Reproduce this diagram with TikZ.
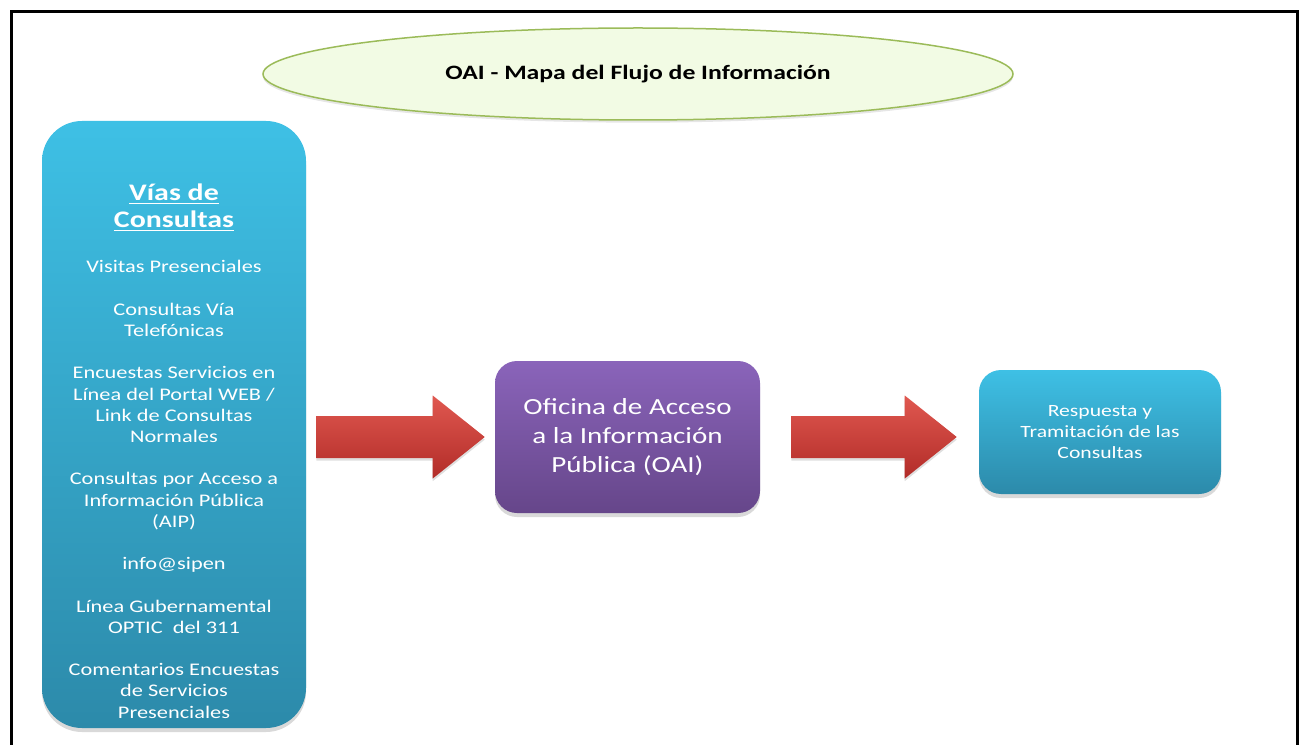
\documentclass[tikz,border=0pt]{standalone}
\usepackage{fontspec}
\setmainfont{Carlito}[FakeStretch=1.26]
\usetikzlibrary{shapes.geometric,shadows,calc}

\definecolor{celesteA}{RGB}{62,192,229}
\definecolor{celesteB}{RGB}{44,138,170}
\definecolor{moradoA}{RGB}{138,100,186}
\definecolor{moradoB}{RGB}{102,70,138}
\definecolor{rojoA}{RGB}{224,88,80}
\definecolor{rojoB}{RGB}{178,44,40}
\definecolor{verdeclaro}{RGB}{242,251,228}
\definecolor{verde}{RGB}{155,187,89}

\newcommand{\px}{0.75pt}

\begin{document}
\begin{tikzpicture}[x=0.75pt,y=-0.75pt,
	caja/.style={inner sep=0pt, align=center, text=white,
		drop shadow={opacity=0.3,shadow xshift=0pt,shadow yshift=-3pt}},
	celeste/.style={top color=celesteA, bottom color=celesteB},
	morado/.style={top color=moradoA, bottom color=moradoB},
	flecha/.style={top color=rojoA, bottom color=rojoB,
		drop shadow={opacity=0.25,shadow xshift=0pt,shadow yshift=-2pt}},
	texto/.style={inner sep=0pt, align=center, text=white}]
	
	\useasboundingbox (0,0) rectangle (1299,745);
	
	% marco
	\draw[line width=3*\px] (11.5,746) -- (11.5,11.3) -- (1297,11.3) -- (1297,746);
	
	% titulo
	\node[ellipse, draw=verde, fill=verdeclaro, line width=1.5*\px,
		minimum width=750*\px, minimum height=92*\px,
		drop shadow={opacity=0.2,shadow xshift=0pt,shadow yshift=-2pt},
		font=\bfseries\fontsize{15.3}{18}\selectfont] (titulo) at (638,74)
		{OAI - Mapa del Flujo de Información};
	
	% cajas
	\node[caja, celeste, rounded corners=40*\px, minimum width=264*\px, minimum height=607*\px]
		(vias) at (174,424.5) {};
	\node[caja, morado, rounded corners=22*\px, minimum width=265*\px, minimum height=152*\px,
		font=\fontsize{17.3}{21.75}\selectfont] (oai) at (627.5,437)
		{Oficina de Acceso\\a la Información\\Pública (OAI)};
	\node[caja, celeste, rounded corners=22*\px, minimum width=242*\px, minimum height=124*\px,
		font=\fontsize{12.9}{15.9}\selectfont] (resp) at (1100,432)
		{Respuesta y\\Tramitación de las\\Consultas};
	
	% texto de la caja izquierda
	\node[texto, font=\bfseries\fontsize{17.8}{20.25}\selectfont] (viastit) at (174,207.5)
		{\underline{Vías de}\\\underline{Consultas}};
	\node[texto, font=\fontsize{13.3}{15.9}\selectfont] (viaslista) at (174,489.5)
		{Visitas Presenciales\\[15.9pt]
		Consultas Vía\\Telefónicas\\[15.9pt]
		Encuestas Servicios en\\Línea del Portal WEB /\\Link de Consultas\\Normales\\[15.9pt]
		Consultas por Acceso a\\Información Pública\\(AIP)\\[15.9pt]
		info@sipen\\[15.9pt]
		Línea Gubernamental\\OPTIC~ del 311\\[15.9pt]
		Comentarios Encuestas\\de Servicios\\Presenciales};
	
	% flechas
	\coordinate (f1a) at ($(vias.east |- oai.west)+(10,0)$);
	\coordinate (f1b) at ($(oai.west)+(-10,0)$);
	\shade[flecha] ($(f1a)+(0,-21)$) -- ($(f1b)+(-52,-21)$) -- ($(f1b)+(-52,-41.5)$) -- (f1b)
		-- ($(f1b)+(-52,41.5)$) -- ($(f1b)+(-52,21)$) -- ($(f1a)+(0,21)$) -- cycle;
	
	\coordinate (f2a) at ($(oai.east)+(31,0)$);
	\coordinate (f2b) at ($(resp.west |- oai.east)+(-22,0)$);
	\shade[flecha] ($(f2a)+(0,-21)$) -- ($(f2b)+(-52,-21)$) -- ($(f2b)+(-52,-41.5)$) -- (f2b)
		-- ($(f2b)+(-52,41.5)$) -- ($(f2b)+(-52,21)$) -- ($(f2a)+(0,21)$) -- cycle;
	
\end{tikzpicture}
\end{document}
